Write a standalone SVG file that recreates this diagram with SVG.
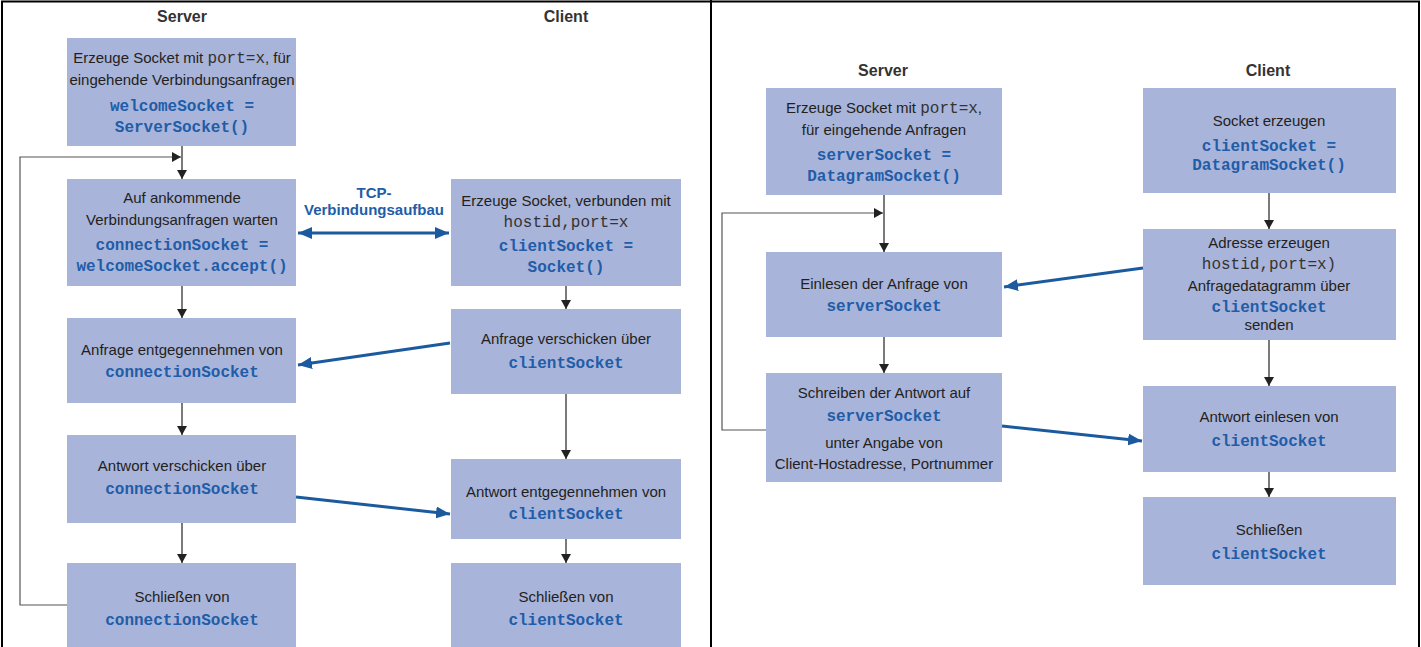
<svg xmlns="http://www.w3.org/2000/svg" width="1421" height="647" viewBox="0 0 1421 647">
<style>
.box{fill:#A9B4DA}
.t{font-family:"Liberation Sans Narrow","Liberation Sans",sans-serif;font-size:15px;fill:#231F20;text-anchor:middle}
.m{font-family:"Liberation Mono",monospace;font-size:16px;font-weight:bold;fill:#1F5DA8;text-anchor:middle}
.p{font-family:"Liberation Mono",monospace;font-size:16px;fill:#333}
.h{font-family:"Liberation Sans Narrow","Liberation Sans",sans-serif;font-size:16px;font-weight:bold;fill:#333;text-anchor:middle}
.tcp{font-family:"Liberation Sans Narrow","Liberation Sans",sans-serif;font-size:15px;font-weight:bold;fill:#1F5DA8;text-anchor:middle}
.a{stroke:#222;stroke-width:1.2;fill:none;marker-end:url(#ah)}
.lp{stroke:#555;stroke-width:1.2;fill:none;marker-end:url(#ah)}
.b{stroke:#1B5A9E;stroke-width:3;fill:none;marker-end:url(#bh)}
</style>
<defs>
<marker id="ah" markerUnits="userSpaceOnUse" markerWidth="9" markerHeight="10" refX="9" refY="5" orient="auto"><path d="M0,0 L9,5 L0,10 z" fill="#222"/></marker>
<marker id="bh" markerUnits="userSpaceOnUse" markerWidth="14" markerHeight="12" refX="14" refY="6" orient="auto"><path d="M0,0 L14,6 L0,12 z" fill="#1B5A9E"/></marker>
<marker id="bs" markerUnits="userSpaceOnUse" markerWidth="14" markerHeight="12" refX="0" refY="6" orient="auto"><path d="M14,0 L0,6 L14,12 z" fill="#1B5A9E"/></marker>
</defs>
<rect x="0" y="0" width="1421" height="647" fill="#fff"/>
<rect x="2" y="1.5" width="1417" height="660" fill="none" stroke="#000" stroke-width="2"/>
<line x1="711" y1="0" x2="711" y2="647" stroke="#000" stroke-width="2"/>

<text class="h" x="182" y="22">Server</text>
<text class="h" x="566" y="22">Client</text>
<text class="h" x="883" y="76">Server</text>
<text class="h" x="1268" y="76">Client</text>

<g id="tcp-server-create">
<rect class="box" x="67" y="38" width="229" height="108"/>
<text class="t" x="182" y="63">Erzeuge Socket mit <tspan class="p">port=x</tspan>, für</text>
<text class="t" x="182" y="85">eingehende Verbindungsanfragen</text>
<text class="m" x="182" y="111">welcomeSocket =</text>
<text class="m" x="182" y="132">ServerSocket()</text>
</g>
<g id="tcp-server-wait">
<rect class="box" x="67" y="179" width="229" height="107"/>
<text class="t" x="182" y="203">Auf ankommende</text>
<text class="t" x="182" y="225">Verbindungsanfragen warten</text>
<text class="m" x="182" y="250">connectionSocket =</text>
<text class="m" x="182" y="271">welcomeSocket.accept()</text>
</g>
<g id="tcp-server-receive">
<rect class="box" x="67" y="318" width="229" height="85"/>
<text class="t" x="182" y="355">Anfrage entgegennehmen von</text>
<text class="m" x="182" y="377">connectionSocket</text>
</g>
<g id="tcp-server-send">
<rect class="box" x="67" y="435" width="229" height="88"/>
<text class="t" x="182" y="471">Antwort verschicken über</text>
<text class="m" x="182" y="494">connectionSocket</text>
</g>
<g id="tcp-server-close">
<rect class="box" x="67" y="563" width="229" height="90"/>
<text class="t" x="182" y="602">Schließen von</text>
<text class="m" x="182" y="625">connectionSocket</text>
</g>
<g id="tcp-client-create">
<rect class="box" x="451" y="179" width="230" height="107"/>
<text class="t" x="566" y="206">Erzeuge Socket, verbunden mit</text>
<text class="p" x="566" y="227" text-anchor="middle">hostid,port=x</text>
<text class="m" x="566" y="251">clientSocket =</text>
<text class="m" x="566" y="272">Socket()</text>
</g>
<g id="tcp-client-send">
<rect class="box" x="451" y="309" width="230" height="85"/>
<text class="t" x="566" y="344">Anfrage verschicken über</text>
<text class="m" x="566" y="368">clientSocket</text>
</g>
<g id="tcp-client-receive">
<rect class="box" x="451" y="459" width="230" height="80"/>
<text class="t" x="566" y="497">Antwort entgegennehmen von</text>
<text class="m" x="566" y="519">clientSocket</text>
</g>
<g id="tcp-client-close">
<rect class="box" x="451" y="563" width="230" height="90"/>
<text class="t" x="566" y="602">Schließen von</text>
<text class="m" x="566" y="625">clientSocket</text>
</g>
<g id="tcp-label">
<text class="tcp" x="374" y="198">TCP-</text>
<text class="tcp" x="374" y="215">Verbindungsaufbau</text>
</g>

<g id="udp-server-create">
<rect class="box" x="766" y="88" width="236" height="107"/>
<text class="t" x="884" y="113">Erzeuge Socket mit <tspan class="p">port=x</tspan>,</text>
<text class="t" x="884" y="135">für eingehende Anfragen</text>
<text class="m" x="884" y="160">serverSocket =</text>
<text class="m" x="884" y="181">DatagramSocket()</text>
</g>
<g id="udp-server-read">
<rect class="box" x="766" y="252" width="236" height="85"/>
<text class="t" x="884" y="289">Einlesen der Anfrage von</text>
<text class="m" x="884" y="311">serverSocket</text>
</g>
<g id="udp-server-write">
<rect class="box" x="766" y="373" width="236" height="109"/>
<text class="t" x="884" y="398">Schreiben der Antwort auf</text>
<text class="m" x="884" y="421">serverSocket</text>
<text class="t" x="884" y="448">unter Angabe von</text>
<text class="t" x="884" y="469">Client-Hostadresse, Portnummer</text>
</g>
<g id="udp-client-create">
<rect class="box" x="1143" y="88" width="253" height="105"/>
<text class="t" x="1269" y="126">Socket erzeugen</text>
<text class="m" x="1269" y="151">clientSocket =</text>
<text class="m" x="1269" y="170">DatagramSocket()</text>
</g>
<g id="udp-client-send">
<rect class="box" x="1143" y="229" width="253" height="111"/>
<text class="t" x="1269" y="248">Adresse erzeugen</text>
<text class="p" x="1269" y="269" text-anchor="middle">hostid,port=x)</text>
<text class="t" x="1269" y="291">Anfragedatagramm über</text>
<text class="m" x="1269" y="312">clientSocket</text>
<text class="t" x="1269" y="330">senden</text>
</g>
<g id="udp-client-read">
<rect class="box" x="1143" y="386" width="253" height="86"/>
<text class="t" x="1269" y="422">Antwort einlesen von</text>
<text class="m" x="1269" y="446">clientSocket</text>
</g>
<g id="udp-client-close">
<rect class="box" x="1143" y="497" width="253" height="88"/>
<text class="t" x="1269" y="535">Schließen</text>
<text class="m" x="1269" y="559">clientSocket</text>
</g>

<g id="connectors">
<path class="a" d="M182,146 V179"/>
<path class="lp" d="M67,605 H20 V157 H181"/>
<path class="a" d="M182,286 V318"/>
<path class="a" d="M182,403 V435"/>
<path class="a" d="M182,523 V563"/>
<path class="a" d="M566,286 V309"/>
<path class="a" d="M566,394 V459"/>
<path class="a" d="M566,539 V563"/>
<path d="M298,233 H449" stroke="#1B5A9E" stroke-width="3" fill="none" marker-start="url(#bs)" marker-end="url(#bh)"/>
<path class="b" d="M450,343 L298,365"/>
<path class="b" d="M296,497 L450,514"/>
<path class="a" d="M884,195 V252"/>
<path class="lp" d="M766,430 H722 V213 H883"/>
<path class="a" d="M884,337 V373"/>
<path class="a" d="M1269,193 V229"/>
<path class="a" d="M1269,340 V386"/>
<path class="a" d="M1269,472 V497"/>
<path class="b" d="M1143,268 L1004,287"/>
<path class="b" d="M1002,426 L1142,441"/>
</g>
</svg>
